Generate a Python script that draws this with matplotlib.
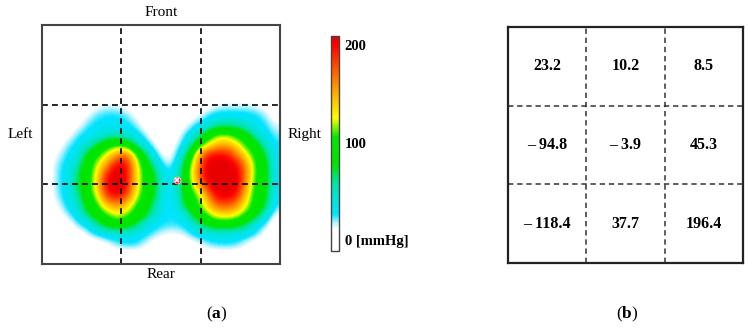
import matplotlib
matplotlib.use('Agg')
import matplotlib.pyplot as plt
from matplotlib.colors import LinearSegmentedColormap

plt.rcParams['font.family'] = ['Liberation Serif', 'DejaVu Serif']
plt.rcParams['mathtext.fontset'] = 'custom'
plt.rcParams['mathtext.rm'] = 'Liberation Serif'
plt.rcParams['mathtext.bf'] = 'Liberation Serif:bold'

pressure = [
    [0] * 24,
    [0, 0, 0, 0, 0, 8, 12, 12, 6, 0, 0, 0, 0, 0, 0, 0, 0, 10, 14, 14, 14, 12, 4, 0],
    [0, 0, 0, 0, 10, 22, 26, 26, 22, 8, 0, 0, 0, 0, 0, 6, 20, 28, 28, 28, 28, 26, 20, 2],
    [0, 0, 0, 6, 22, 28, 30, 30, 28, 20, 4, 0, 0, 0, 8, 24, 30, 50, 55, 55, 45, 30, 26, 14],
    [0, 0, 4, 22, 28, 34, 42, 50, 42, 30, 16, 0, 0, 4, 24, 40, 85, 110, 115, 100, 88, 50, 30, 20],
    [0, 2, 20, 28, 40, 70, 92, 105, 92, 60, 30, 10, 0, 12, 32, 85, 110, 140, 150, 135, 105, 90, 50, 26],
    [0, 12, 26, 32, 80, 100, 125, 150, 175, 110, 70, 24, 4, 18, 60, 125, 190, 200, 200, 170, 130, 100, 75, 28],
    [0, 20, 28, 50, 90, 118, 150, 205, 205, 130, 90, 50, 14, 26, 85, 140, 205, 215, 215, 205, 165, 105, 88, 30],
    [0, 22, 30, 65, 92, 125, 195, 215, 205, 135, 95, 72, 24, 40, 90, 150, 210, 215, 215, 215, 170, 105, 90, 32],
    [0, 22, 30, 68, 92, 130, 205, 215, 205, 135, 95, 75, 26, 40, 92, 130, 195, 215, 215, 215, 165, 100, 90, 32],
    [0, 20, 30, 55, 92, 120, 190, 205, 190, 125, 95, 70, 26, 35, 90, 105, 145, 205, 210, 205, 145, 95, 85, 28],
    [0, 12, 28, 42, 85, 100, 145, 160, 145, 105, 90, 55, 26, 30, 85, 100, 130, 170, 180, 165, 130, 95, 80, 24],
    [0, 0, 20, 30, 65, 92, 105, 125, 115, 95, 80, 40, 26, 26, 42, 88, 105, 130, 135, 130, 105, 88, 45, 10],
    [0, 0, 0, 20, 28, 55, 85, 95, 88, 70, 38, 28, 26, 25, 28, 50, 75, 90, 88, 85, 70, 36, 20, 0],
    [0, 0, 0, 0, 12, 24, 30, 36, 36, 32, 26, 20, 10, 10, 16, 28, 32, 36, 36, 34, 30, 24, 8, 0],
    [0, 0, 0, 0, 0, 0, 8, 20, 26, 26, 14, 0, 0, 0, 0, 6, 18, 24, 26, 24, 14, 0, 0, 0],
    [0] * 24,
]
cbar_ticks = [0, 100, 200]
cbar_labels = ['0 [mmHg]', '100', '200']
table_values = [
    ['23.2', '10.2', '8.5'],
    ['\u2013 94.8', '\u2013 3.9', '45.3'],
    ['\u2013 118.4', '37.7', '196.4'],
]

W, H = 749, 330
cmap = LinearSegmentedColormap.from_list('pressure', [
    (0.0, '#ffffff'), (0.10, '#ffffff'), (0.13, '#b5f2ff'), (0.17, '#00e4ff'),
    (0.25, '#00e4d8'), (0.32, '#00e4a0'), (0.40, '#00e400'), (0.53, '#00e800'),
    (0.62, '#ffff00'), (0.76, '#ff9a00'), (0.96, '#ff0000'), (1.0, '#e80000')])


def px_axes(left, top, right, bottom):
    return fig.add_axes([left / W, 1 - bottom / H, (right - left) / W, (bottom - top) / H])


fig = plt.figure(figsize=(W / 100, H / 100), dpi=100)

ax = px_axes(42, 25, 280, 264)
im = ax.imshow(pressure, cmap=cmap, vmin=-11, vmax=209, interpolation='bicubic',
               extent=(0, 3, 0.05, 2.184), aspect='auto')
ax.set_xlim(0, 3)
ax.set_ylim(0, 3)
ax.set_xticks([])
ax.set_yticks([])
for s in ax.spines.values():
    s.set_color('#444444')
    s.set_linewidth(1.5)
for v in [1, 2]:
    ax.axvline(v, color='black', lw=1.2, ls=(0, (3.5, 2.5)))
    ax.axhline(v, color='black', lw=1.2, ls=(0, (3.5, 2.5)))
ax.plot(1.7, 1.06, 'o', ms=5, color='#ff2020', mec='#ffdddd', mew=0.5)
ax.plot(1.7, 1.06, 'x', ms=3.5, color='white', mew=1.2)

ax.text(1.5, 3.07, 'Front', ha='center', va='bottom', fontsize=11)
ax.text(1.5, -0.05, 'Rear', ha='center', va='top', fontsize=11)
ax.text(-0.11, 1.62, 'Left', ha='right', va='center', fontsize=11)
ax.text(3.1, 1.62, 'Right', ha='left', va='center', fontsize=11)

cax = px_axes(331, 36, 339, 251)
cb = fig.colorbar(im, cax=cax)
cb.set_ticks(cbar_ticks, labels=cbar_labels)
cb.ax.tick_params(length=0, pad=4, labelsize=10.5)
for lab in cb.ax.get_yticklabels():
    lab.set_fontweight('bold')
cb.outline.set_edgecolor('#444444')
cb.outline.set_linewidth(1)

tb = px_axes(508, 27, 743, 263)
tb.set_xlim(0, 3)
tb.set_ylim(3, 0)
tb.set_xticks([])
tb.set_yticks([])
for s in tb.spines.values():
    s.set_color('#222222')
    s.set_linewidth(1.6)
for v in [1, 2]:
    tb.axvline(v, color='#333333', lw=1.1, ls=(0, (3.5, 2.5)))
    tb.axhline(v, color='#333333', lw=1.1, ls=(0, (3.5, 2.5)))
for r, row in enumerate(table_values):
    for c, val in enumerate(row):
        tb.text(c + 0.5, r + 0.5, val, ha='center', va='center', fontsize=11.5, fontweight='bold')

fig.text(217 / W, 1 - 314 / H, r'($\mathbf{a}$)', ha='center', va='center', fontsize=12.5)
fig.text(627 / W, 1 - 314 / H, r'($\mathbf{b}$)', ha='center', va='center', fontsize=12.5)

fig.savefig('out.png', dpi=100)
